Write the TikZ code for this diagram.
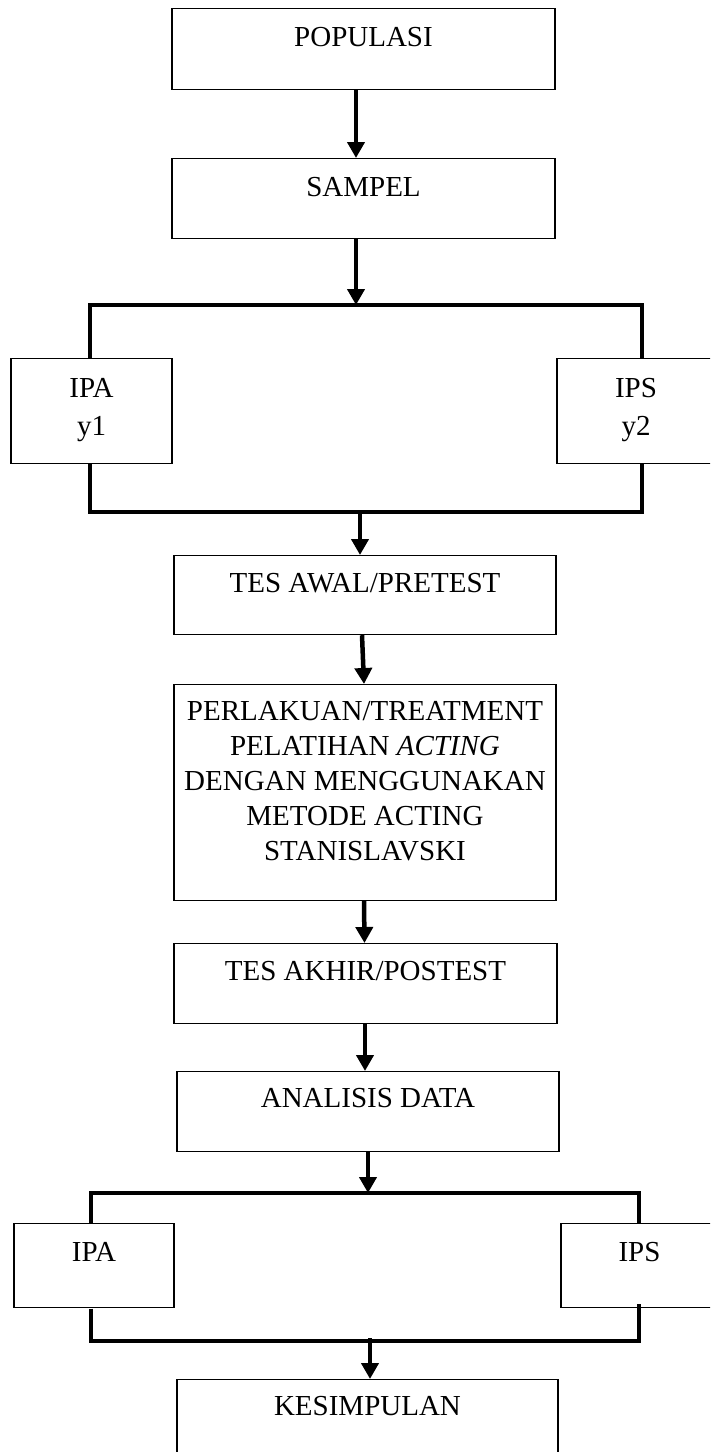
\documentclass[tikz,border=0pt]{standalone}
\usepackage{fontspec}
\setmainfont{Liberation Serif}
\usetikzlibrary{arrows.meta}
\newcommand\mlines[1]{\begin{tabular}[t]{@{}c@{}}#1\end{tabular}}
\begin{document}
\begin{tikzpicture}[x=1pt,y=-1pt,
  box/.style={draw, line width=1.2pt, inner sep=0pt, anchor=north, align=center,
    font=\fontsize{29}{35}\selectfont},
  arr/.style={line width=4.5pt, -{Triangle[width=17pt,length=16pt]}},
  brk/.style={line width=4pt, line join=miter}]
\useasboundingbox (0,0) rectangle (710,1452);
\clip (0,0) rectangle (710,1452);
\fill[white] (0,0) rectangle (710,1452);

% boxes
\node[box, minimum width=383pt, text height=38pt, text depth=43pt] (pop) at (363.5,8) {POPULASI};
\node[box, minimum width=383pt, text height=38pt, text depth=42pt] (samp) at (363.5,158) {SAMPEL};
\node[box, minimum width=161pt, text height=39pt, text depth=66pt] (ipa1) at (91.5,358) {\mlines{IPA\\[2.5pt] y1}};
\node[box, minimum width=158pt, text height=39pt, text depth=66pt] (ips1) at (636,358) {\mlines{IPS\\[2.5pt] y2}};
\node[box, minimum width=382pt, text height=37pt, text depth=42pt] (awal) at (365,555) {TES AWAL/PRETEST};
\node[box, minimum width=382pt, text height=36pt, text depth=180pt] (perl) at (365,684)
  {\mlines{PERLAKUAN/TREATMENT\\ PELATIHAN \textit{ACTING}\\ DENGAN MENGGUNAKAN\\ METODE ACTING\\ STANISLAVSKI}};
\node[box, minimum width=383pt, text height=37pt, text depth=43pt] (akhir) at (365.5,943) {TES AKHIR/POSTEST};
\node[box, minimum width=382pt, text height=36pt, text depth=44pt] (anal) at (368,1071) {ANALISIS DATA};
\node[box, minimum width=160pt, text height=38pt, text depth=46pt] (ipa2) at (94,1223) {IPA};
\node[box, minimum width=157pt, text height=38pt, text depth=46pt] (ips2) at (639.5,1223) {IPS};
\node[box, minimum width=381pt, text height=36pt, text depth=50pt] (kes) at (367.5,1379) {KESIMPULAN};

% bracket coordinates
\coordinate (L1) at (90,305);
\coordinate (R1) at (642,305);
\coordinate (L1b) at (90,512);
\coordinate (R1b) at (642,512);
\coordinate (M1) at (356,305);
\coordinate (M1b) at (360,512);
\coordinate (L2) at (90.5,1193);
\coordinate (R2) at (639,1193);
\coordinate (L2b) at (90.5,1341);
\coordinate (R2b) at (639,1341);
\coordinate (M2) at (368,1193);
\coordinate (M2b) at (370,1338);

% brackets
\draw[brk] (L1 |- ipa1.north) -- (L1) -- (R1) -- (R1 |- ips1.north);
\draw[brk] (L1b |- ipa1.south) -- (L1b) -- (R1b) -- (R1b |- ips1.south);
\draw[brk] (L2 |- ipa2.north) -- (L2) -- (R2) -- (R2 |- ips2.north);
\draw[brk] ([yshift=-0.5pt]L2b |- ipa2.south) -- (L2b) -- (R2b) -- ([yshift=4pt]R2b |- ips2.south);

% arrows
\draw[arr] ([xshift=-7.5pt]pop.south) -- ([xshift=-7.5pt]samp.north);
\draw[arr] ([xshift=-7.5pt]samp.south) -- (M1);
\draw[arr] (M1b) -- (M1b |- awal.north);
\draw[arr] ([xshift=-3pt]awal.south) -- ([xshift=-1pt]perl.north);
\draw[arr] ([xshift=-1pt]perl.south) -- ([xshift=-1pt]akhir.north);
\draw[arr] ([xshift=-0.5pt]akhir.south) -- ([xshift=-3pt]anal.north);
\draw[arr] (anal.south) -- (M2);
\draw[arr] (M2b) -- (M2b |- kes.north);
\end{tikzpicture}
\end{document}
